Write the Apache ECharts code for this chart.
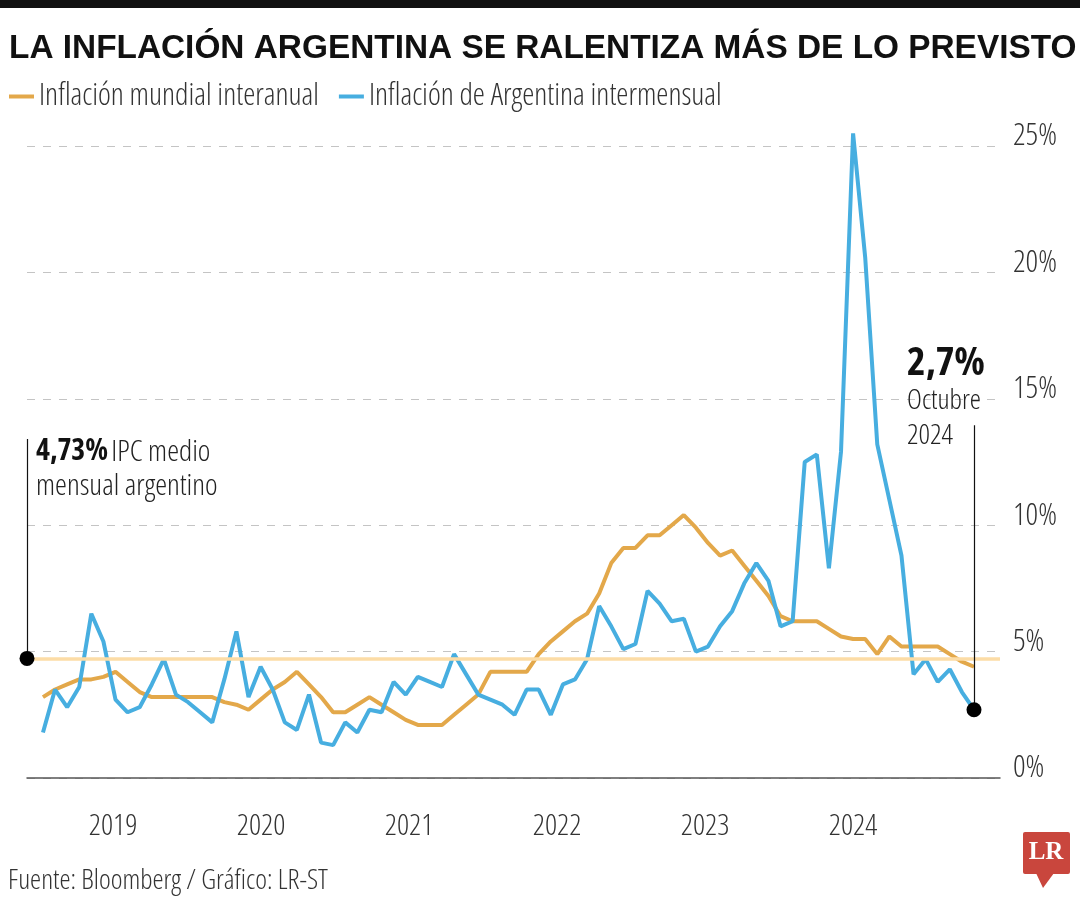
<!DOCTYPE html>
<html><head><meta charset="utf-8">
<script src="https://cdn.jsdelivr.net/npm/echarts@6/dist/echarts.min.js"></script>
<style>html,body{margin:0;padding:0;background:#fff}#c{width:1080px;height:900px}</style>
</head><body><div id="c"></div>
<script>
// Monthly data, May 2018 – October 2024
const startYear = 2018, startMonth = 5;
const argentina = [
  1.8, 3.5, 2.8, 3.6, 6.5, 5.4, 3.1, 2.6,
  2.8, 3.7, 4.7, 3.3, 3.0, 2.6, 2.2, 3.9, 5.8, 3.2, 4.4, 3.5,
  2.2, 1.9, 3.3, 1.4, 1.3, 2.2, 1.8, 2.7, 2.6, 3.8, 3.3, 4.0,
  3.8, 3.6, 4.9, 4.1, 3.3, 3.1, 2.9, 2.5, 3.5, 3.5, 2.5, 3.7,
  3.9, 4.7, 6.8, 6.0, 5.1, 5.3, 7.4, 6.9, 6.2, 6.3, 5.0, 5.2,
  6.0, 6.6, 7.7, 8.5, 7.8, 6.0, 6.2, 12.5, 12.8, 8.3, 12.9, 25.5,
  20.6, 13.2, 11.0, 8.8, 4.1, 4.7, 3.8, 4.3, 3.4, 2.7
];
const mundial = [
  3.2, 3.5, 3.7, 3.9, 3.9, 4.0, 4.2, 3.8,
  3.4, 3.2, 3.2, 3.2, 3.2, 3.2, 3.2, 3.0, 2.9, 2.7, 3.1, 3.5,
  3.8, 4.2, 3.7, 3.2, 2.6, 2.6, 2.9, 3.2, 2.9, 2.6, 2.3, 2.1,
  2.1, 2.1, 2.5, 2.9, 3.3, 4.2, 4.2, 4.2, 4.2, 4.9, 5.4, 5.8,
  6.2, 6.5, 7.3, 8.5, 9.1, 9.1, 9.6, 9.6, 10.0, 10.4, 9.9, 9.3,
  8.8, 9.0, 8.4, 7.8, 7.2, 6.4, 6.2, 6.2, 6.2, 5.9, 5.6, 5.5,
  5.5, 4.9, 5.6, 5.2, 5.2, 5.2, 5.2, 4.9, 4.6, 4.4
];
const months = argentina.map((_, i) => {
  const m = startMonth - 1 + i;
  return (startYear + Math.floor(m / 12)) + '-' + String(m % 12 + 1).padStart(2, '0');
});
const yearLabels = ['2019', '2020', '2021', '2022', '2023', '2024'];
const yTicks = [0, 5, 10, 15, 20, 25];
const promedio = 4.73;       // IPC medio mensual argentino
const seriesNames = ['Inflación mundial interanual', 'Inflación de Argentina intermensual'];
const titleText = 'LA INFLACIÓN ARGENTINA SE RALENTIZA MÁS DE LO PREVISTO';
const sourceText = 'Fuente: Bloomberg / Gráfico: LR-ST';

// ---- font selection: find a condensed face among installed fonts ----
const mctx = document.createElement('canvas').getContext('2d');
function tw(font, s) { mctx.font = font; return mctx.measureText(s).width; }
const probe = seriesNames[0];
const cands = [
  {fam: "'Noto Sans'", st: 'extra-condensed'},
  {fam: "'Noto Sans'", st: 'condensed'},
  {fam: "'Liberation Sans Narrow'", st: 'normal'},
  {fam: "'DejaVu Sans Condensed'", st: 'normal'},
  {fam: "'DejaVu Sans'", st: 'condensed'},
  {fam: "'Open Sans'", st: 'condensed'},
  {fam: "'Roboto'", st: 'condensed'},
  {fam: "'Noto Sans'", st: 'semi-condensed'},
  {fam: "'Roboto'", st: 'normal'}
];
const monoW = tw('100px monospace', probe);
let NF = {fam: "'Roboto'", st: 'normal', w: '300'};
let bestScore = 1e9;
cands.forEach(c => {
  const base = tw('100px ' + c.fam + ', monospace', probe);
  if (Math.abs(base - monoW) < 0.5) return; // not installed
  const wc = tw(c.st + ' 100px ' + c.fam + ', monospace', probe);
  if (c.st !== 'normal' && wc > base * 0.97) return; // stretch not available
  const ratio = wc / 100;              // width in em
  const score = Math.abs(ratio - 9.3);  // reference: ~280px at ~30px
  if (score < bestScore) { bestScore = score; NF = {fam: c.fam, st: c.st, w: '300'}; }
});
const FAM = NF.fam + ", 'Roboto', sans-serif";
function fnt(size, bold) { return NF.st + ' ' + (bold ? 'bold' : NF.w) + ' ' + size + 'px ' + FAM; }
function fit(text, width, maxSize, bold) {
  const r = tw(fnt(100, bold), text) / 100;
  return Math.min(maxSize, width / r);
}
const ts = (size, bold, color) => ({fontFamily: FAM, fontStyle: NF.st, fontWeight: bold ? 'bold' : NF.w, fontSize: size, color: color || '#333'});

const sLegend = fit(seriesNames[0], 280, 31);
const sY = fit('15%', 44, 31);
const sYear = fit('2019', 48.5, 31);
const sSrc = fit(sourceText, 320, 28);
const sNoteR = fit('mensual argentino', 184, 30);
const sNoteB = fit('4,73%', 72, 30, true);
const sBig = fit('2,7%', 78, 40, true);
const sOct = fit('Octubre', 74, 32);
mctx.font = 'bold 100px \'Liberation Sans\', Arial, sans-serif';
const sTitle = Math.min(36, 1068 / (mctx.measureText(titleText).width / 100));

const xMin = -1.32, xMax = 79.15;
const lastIdx = argentina.length - 1;
const yearPos = yearLabels.map((y, k) => months.indexOf(y + '-01') - 2.2 + 0.24 * k);

const chart = echarts.init(document.getElementById('c'), null, {renderer: 'canvas'});
chart.setOption({
  animation: false,
  backgroundColor: '#fff',
  title: {
    text: titleText,
    left: 4, top: 27,
    textStyle: {fontFamily: "'Liberation Sans',Arial,sans-serif", fontWeight: 'bold', fontSize: sTitle, color: '#111'}
  },
  legend: {
    data: seriesNames,
    left: 4, top: 76,
    icon: 'rect', itemWidth: 25, itemHeight: 4, itemGap: 20,
    textStyle: ts(sLegend, false, '#333')
  },
  grid: {left: 27, right: 80, top: 146, bottom: 122},
  xAxis: {
    type: 'value', min: xMin, max: xMax,
    splitLine: {show: false},
    axisTick: {show: false},
    axisLine: {show: true, lineStyle: {color: '#555', width: 1.5}},
    axisLabel: Object.assign({
      customValues: yearPos,
      formatter: v => {
        let best = 0;
        yearPos.forEach((p, k) => { if (Math.abs(p - v) < Math.abs(yearPos[best] - v)) best = k; });
        return yearLabels[best];
      },
      margin: 34
    }, ts(sYear, false, '#333'))
  },
  yAxis: {
    type: 'value', position: 'right', min: yTicks[0], max: yTicks[yTicks.length - 1], interval: 5,
    axisLine: {show: false}, axisTick: {show: false},
    splitLine: {show: true, lineStyle: {color: '#c4c4c4', width: 1, type: [8, 8]}},
    axisLabel: Object.assign({
      formatter: '{value}%', margin: 13,
      verticalAlign: 'bottom', lineHeight: Math.round(sY * 0.62)
    }, ts(sY, false, '#333'))
  },
  series: [
    {
      name: 'ref', type: 'line', data: [], z: 1, silent: true,
      markLine: {
        silent: true, symbol: ['none', 'none'], animation: false,
        label: {show: false},
        lineStyle: {color: '#fcdca6', width: 3.5, type: 'solid'},
        data: [{yAxis: promedio}]
      }
    },
    {
      name: seriesNames[0], type: 'line', z: 2, clip: false,
      data: mundial.map((v, i) => [i, v]),
      showSymbol: false, symbol: 'none',
      lineStyle: {color: '#e3a84a', width: 4},
      itemStyle: {color: '#e3a84a'}
    },
    {
      name: seriesNames[1], type: 'line', z: 3, clip: false,
      data: argentina.map((v, i) => [i, v]),
      showSymbol: false, symbol: 'none',
      lineStyle: {color: '#47aee0', width: 4},
      itemStyle: {color: '#47aee0'}
    },
    {
      name: 'notes', type: 'line', data: [], z: 5, silent: true,
      markLine: {
        silent: true, symbol: ['none', 'none'], animation: false,
        label: {show: false},
        lineStyle: {color: '#111', width: 1.2, type: 'solid'},
        data: [
          [{coord: [xMin, promedio]}, {coord: [xMin, 13.41]}],
          [{coord: [lastIdx, argentina[lastIdx]]}, {coord: [lastIdx, 13.95]}]
        ]
      },
      markPoint: {
        silent: true, animation: false,
        data: [
          {coord: [xMin, promedio], symbol: 'circle', symbolSize: 15, itemStyle: {color: '#000'}, label: {show: false}},
          {coord: [lastIdx, argentina[lastIdx]], symbol: 'circle', symbolSize: 15, itemStyle: {color: '#000'}, label: {show: false}},
          {
            coord: [xMin, 13.41], symbol: 'circle', symbolSize: 0,
            label: {
              show: true, position: [9, Math.round(462 - 17 - 0.35 * sNoteB - 439)], align: 'left', verticalAlign: 'top',
              formatter: '{b|' + String(promedio).replace('.', ',') + '%} {r|IPC medio}\n{r|mensual argentino}',
              rich: {
                b: Object.assign(ts(sNoteB, true, '#111'), {lineHeight: 34}),
                r: Object.assign(ts(sNoteR, false, '#222'), {lineHeight: 34})
              }
            }
          },
          {
            coord: [lastIdx, 13.95], symbol: 'circle', symbolSize: 0,
            label: {
              show: true, position: [-67, Math.round(377 - 20 - 0.35 * sBig - 425)], align: 'left', verticalAlign: 'top',
              formatter: '{b|' + String(argentina[lastIdx]).replace('.', ',') + '%}\n{r|Octubre}\n{r|2024}',
              rich: {
                b: Object.assign(ts(sBig, true, '#111'), {lineHeight: 40}),
                r: Object.assign(ts(sOct, false, '#222'), {lineHeight: 35})
              }
            }
          }
        ]
      }
    }
  ],
  graphic: [
    {type: 'rect', left: 0, top: 0, shape: {width: 1080, height: 8}, style: {fill: '#111'}},
    {type: 'text', x: 8, y: 881, style: {text: sourceText, font: fnt(sSrc, false), fill: '#333', verticalAlign: 'middle'}},
    {type: 'rect', shape: {x: 1023, y: 832, width: 47, height: 42, r: 2}, style: {fill: '#c9463d'}},
    {type: 'polygon', shape: {points: [[1036, 873], [1054, 873], [1043, 888]]}, style: {fill: '#c9463d'}},
    {type: 'text', x: 1046, y: 853, style: {text: 'LR', font: "bold 25px 'Liberation Serif','DejaVu Serif',serif", fill: '#fff', align: 'center', verticalAlign: 'middle'}}
  ]
});
</script>
</body></html>
